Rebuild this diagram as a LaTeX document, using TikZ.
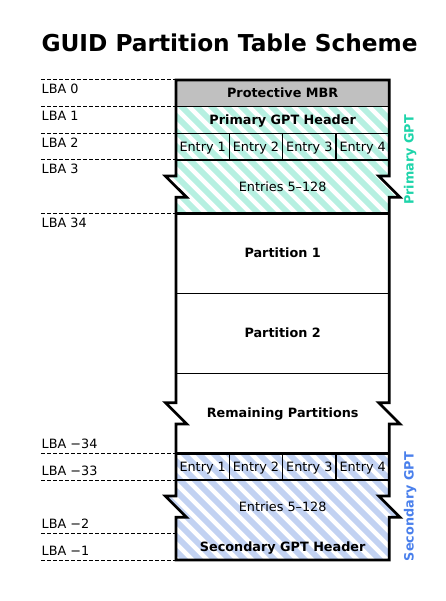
\documentclass[tikz,border=0pt]{standalone}
\usepackage{fontspec}
\setmainfont{DejaVu Sans}
\definecolor{mbrgray}{RGB}{192,192,192}
\definecolor{tealtxt}{RGB}{30,212,170}
\definecolor{tealstripe}{RGB}{182,240,225}
\definecolor{bluetxt}{RGB}{74,128,236}
\definecolor{bluestripe}{RGB}{194,210,242}
\def\xl{176}
\def\xr{389.33}
\begin{document}
\begin{tikzpicture}[x=1pt,y=-1pt,
  outline/.style={line width=2.7pt, line join=miter},
  thinline/.style={line width=1.3pt},
  dashln/.style={line width=1pt, dash pattern=on 4pt off 2pt},
  lbl/.style={font=\fontsize{12.8}{15}\selectfont, inner sep=0pt, anchor=base west},
  cell/.style={font=\fontsize{12.8}{15}\selectfont, inner sep=0pt, text height=9.3pt, text depth=0pt, anchor=center},
  bcell/.style={cell, font=\fontsize{12.8}{15}\selectfont\bfseries},
  sidelbl/.style={font=\fontsize{12.8}{15}\selectfont\bfseries, inner sep=0pt, text height=9.3pt, text depth=0pt, anchor=center, rotate=90},
  stripe/.style={line width=5.8pt},
]
\useasboundingbox (0,0) rectangle (446,601);

% title
\node[anchor=base west, inner sep=0pt, font=\fontsize{23.25}{28}\selectfont\bfseries] (title) at (41.3,52) {GUID Partition Table Scheme};

% protective MBR fill
\fill[mbrgray] (\xl,80) rectangle (\xr,106.67);

% primary GPT hatched region
\begin{scope}
\clip (\xl,106.67) -- (\xr,106.67) -- (\xr,176) -- (378.67,176) -- (400,197.33) -- (\xr,197.33) -- (\xr,213.33) -- (\xl,213.33) -- (\xl,197.33) -- (186.67,197.33) -- (165.33,176) -- (\xl,176) -- cycle;
\foreach \c in {-420,-405,...,330} \draw[stripe, tealstripe] (\c,0) -- ++(700,700);
\end{scope}

% secondary GPT hatched region
\begin{scope}
\clip (\xl,453.33) -- (\xr,453.33) -- (\xr,496) -- (378.67,496) -- (400,517.33) -- (\xr,517.33) -- (\xr,560) -- (\xl,560) -- (\xl,517.33) -- (186.67,517.33) -- (165.33,496) -- (\xl,496) -- cycle;
\foreach \c in {-420,-405,...,330} \draw[stripe, bluestripe] (\c,0) -- ++(700,700);
\end{scope}

% thin internal lines
\draw[thinline] (\xl,106.67) -- (\xr,106.67);
\draw[thinline] (\xl,133.33) -- (\xr,133.33);
\draw[thinline] (\xl,160) -- (\xr,160);
\draw[thinline] (\xl,293.33) -- (\xr,293.33);
\draw[thinline] (\xl,373.33) -- (\xr,373.33);
\draw[thinline] (\xl,480) -- (\xr,480);
\foreach \x in {229.33,282.67,336} {
  \draw[thinline] (\x,133.33) -- (\x,160);
  \draw[thinline] (\x,453.33) -- (\x,480);
}

% thick outline and separators
\draw[outline] (\xl,213.33) -- (\xr,213.33);
\draw[outline] (\xl,453.33) -- (\xr,453.33);
\draw[outline] (\xl,80) -- (\xr,80) -- (\xr,176) -- (378.67,176) -- (400,197.33) -- (\xr,197.33)
  -- (\xr,402.67) -- (378.67,402.67) -- (400,424) -- (\xr,424)
  -- (\xr,496) -- (378.67,496) -- (400,517.33) -- (\xr,517.33)
  -- (\xr,560) -- (\xl,560)
  -- (\xl,517.33) -- (186.67,517.33) -- (165.33,496) -- (\xl,496)
  -- (\xl,424) -- (186.67,424) -- (165.33,402.67) -- (\xl,402.67)
  -- (\xl,197.33) -- (186.67,197.33) -- (165.33,176) -- (\xl,176) -- cycle;

% dashed LBA lines
\foreach \y in {80,106.67,133.33,160,213.33,453.33,480,533.33,560}
  \draw[dashln] (41,\y) -- (\xl,\y);

% LBA labels
\node[lbl] (lba0) at (41.5,94) {LBA 0};
\node[lbl] (lba1) at (41.5,120.67) {LBA 1};
\node[lbl] (lba2) at (41.5,147.33) {LBA 2};
\node[lbl] (lba3) at (41.5,174) {LBA 3};
\node[lbl] (lba34) at (41.5,227.33) {LBA 34};
\node[lbl] (lbam34) at (41.5,448.33) {LBA −34};
\node[lbl] (lbam33) at (41.5,475) {LBA −33};
\node[lbl] (lbam2) at (41.5,528.33) {LBA −2};
\node[lbl] (lbam1) at (41.5,555) {LBA −1};

% box texts
\node[bcell] (mbr) at (282.67,93.33) {Protective MBR};
\node[bcell] (phdr) at (282.67,120) {Primary GPT Header};
\node[cell] (pe1) at (202.67,146.67) {Entry 1};
\node[cell] (pe2) at (256,146.67) {Entry 2};
\node[cell] (pe3) at (309.33,146.67) {Entry 3};
\node[cell] (pe4) at (362.67,146.67) {Entry 4};
\node[cell] (pent) at (282.67,186.67) {Entries 5–128};
\node[bcell] (part1) at (282.67,253.33) {Partition 1};
\node[bcell] (part2) at (282.67,333.33) {Partition 2};
\node[bcell] (rem) at (282.67,413.33) {Remaining Partitions};
\node[cell] (se1) at (202.67,466.67) {Entry 1};
\node[cell] (se2) at (256,466.67) {Entry 2};
\node[cell] (se3) at (309.33,466.67) {Entry 3};
\node[cell] (se4) at (362.67,466.67) {Entry 4};
\node[cell] (sent) at (282.67,506.67) {Entries 5–128};
\node[bcell] (shdr) at (282.67,546.67) {Secondary GPT Header};

% side labels
\node[sidelbl, text=tealtxt] (pgpt) at (409,160) {Primary GPT};
\node[sidelbl, text=bluetxt] (sgpt) at (409,506.67) {Secondary GPT};
\end{tikzpicture}
\end{document}
